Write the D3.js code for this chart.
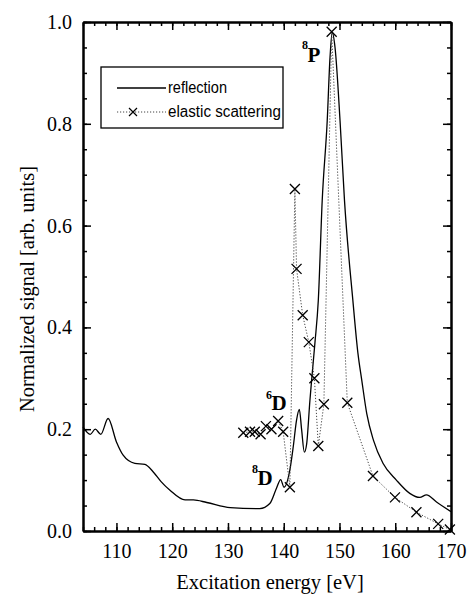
<!DOCTYPE html>
<html lang="en">
<head>
<meta charset="utf-8">
<title>Reflection vs elastic scattering</title>
<script src="https://d3js.org/d3.v7.min.js"></script>
<style>
  body { margin: 0; background: #fff; }
  svg text { fill: #000; }
</style>
</head>
<body>
<script>
// reflection curve (solid)
const reflE = [104.0, 105.3, 106.2, 107.2, 108.5, 110.0, 111.2, 113.3, 115.1, 116.6, 118.0, 119.6, 122.3, 123.8, 126.2, 130.4, 135.7, 137.5, 138.7,
  139.45, 140.05, 141.1, 141.7, 142.3, 142.8, 143.2, 143.7, 144.1, 144.7, 145.0, 145.6, 146.2, 146.9, 147.8, 148.3, 148.7, 149.2,
  150.1, 150.9, 152.4, 153.3, 154.0, 154.9, 156.1, 157.8, 160.2, 162.6, 164.4, 165.6, 167.4, 170.0];
const reflV = [0.204, 0.19, 0.20, 0.19, 0.221, 0.175, 0.149, 0.133, 0.131, 0.116, 0.097, 0.08, 0.061, 0.061, 0.056, 0.046, 0.044, 0.054, 0.084,
  0.101, 0.086, 0.12, 0.165, 0.218, 0.239, 0.20, 0.155, 0.17, 0.257, 0.296, 0.37, 0.453, 0.649, 0.806, 0.93, 0.98, 0.95,
  0.806, 0.649, 0.453, 0.35, 0.296, 0.23, 0.178, 0.133, 0.10, 0.074, 0.066, 0.071, 0.057, 0.038];

// elastic scattering (dotted + crosses)
const elE = [132.75, 133.95, 134.8, 135.85, 136.8, 137.8, 139.0, 139.9, 141.1, 142.0, 142.3, 143.4, 144.5, 145.5, 146.2, 147.2,
  148.6, 151.4, 156.0, 159.95, 163.8, 167.7, 169.8];
const elV = [0.193, 0.195, 0.195, 0.19, 0.206, 0.20, 0.216, 0.195, 0.086, 0.672, 0.515, 0.424, 0.371, 0.30, 0.167, 0.249,
  0.981, 0.252, 0.108, 0.066, 0.037, 0.014, 0.003];

const xTicks = [110, 120, 130, 140, 150, 160, 170];
const yTicks = [0.0, 0.2, 0.4, 0.6, 0.8, 1.0];

const w = 471, h = 597;
const mLeft = 83, mRight = 451, mTop = 22, mBottom = 531;
const serif = "'Liberation Serif', 'Times New Roman', Times, serif";

const x = d3.scaleLinear().domain([104, 170]).range([mLeft, mRight]);
const y = d3.scaleLinear().domain([0, 1]).range([mBottom, mTop]);

const svg = d3.select("body").append("svg").attr("width", w).attr("height", h);

// data lines
const reflection = reflE.map((e, i) => [e, reflV[i]]);
const elastic = elE.map((e, i) => [e, elV[i]]);

svg.append("path").datum(reflection)
  .attr("d", d3.line().x(d => x(d[0])).y(d => y(d[1])).curve(d3.curveMonotoneX))
  .attr("fill", "none").attr("stroke", "#000").attr("stroke-width", 1.3);

svg.append("path").datum(elastic)
  .attr("d", d3.line().x(d => x(d[0])).y(d => y(d[1])))
  .attr("fill", "none").attr("stroke", "#444").attr("stroke-width", 1)
  .attr("stroke-dasharray", "1.2,1.8");

const cross = "M-5,-5L5,5M-5,5L5,-5";
svg.append("g").selectAll("path").data(elastic).enter().append("path")
  .attr("transform", d => "translate(" + x(d[0]) + "," + y(d[1]) + ")")
  .attr("d", cross).attr("stroke", "#000").attr("stroke-width", 1.3).attr("fill", "none");

// axes: ticks pointing inward, frame on all sides
function styleAxis(g) {
  g.attr("font-family", serif).attr("font-size", 20);
  g.select(".domain").attr("stroke-width", 2);
  g.selectAll("line").attr("stroke-width", 1.5);
}
const xMinor = d3.range(104, 171, 2);
const yMinor = d3.range(0, 1.001, 0.05);

svg.append("g").attr("transform", "translate(0," + mBottom + ")")
  .call(d3.axisBottom(x).tickValues(xMinor).tickSize(-4).tickFormat("").tickSizeOuter(0)).call(styleAxis);
svg.append("g").attr("transform", "translate(0," + mBottom + ")")
  .call(d3.axisBottom(x).tickValues(xTicks).tickSize(-8).tickPadding(13).tickFormat(d3.format("d")).tickSizeOuter(0))
  .call(styleAxis);
svg.append("g").attr("transform", "translate(0," + mTop + ")")
  .call(d3.axisTop(x).tickValues(xMinor).tickSize(-4).tickFormat("").tickSizeOuter(0)).call(styleAxis);
svg.append("g").attr("transform", "translate(0," + mTop + ")")
  .call(d3.axisTop(x).tickValues(xTicks).tickSize(-8).tickFormat("").tickSizeOuter(0)).call(styleAxis);

svg.append("g").attr("transform", "translate(" + mLeft + ",0)")
  .call(d3.axisLeft(y).tickValues(yMinor).tickSize(-4).tickFormat("").tickSizeOuter(0)).call(styleAxis);
svg.append("g").attr("transform", "translate(" + mLeft + ",0)")
  .call(d3.axisLeft(y).tickValues(yTicks).tickSize(-8).tickPadding(11).tickFormat(d3.format(".1f")).tickSizeOuter(0))
  .call(styleAxis);
svg.append("g").attr("transform", "translate(" + mRight + ",0)")
  .call(d3.axisRight(y).tickValues(yMinor).tickSize(-4).tickFormat("").tickSizeOuter(0)).call(styleAxis);
svg.append("g").attr("transform", "translate(" + mRight + ",0)")
  .call(d3.axisRight(y).tickValues(yTicks).tickSize(-8).tickFormat("").tickSizeOuter(0)).call(styleAxis);

svg.selectAll(".tick text").attr("fill", "#000").style("font-family", serif);

// axis titles
svg.append("text").attr("x", 270).attr("y", 589)
  .attr("text-anchor", "middle")
  .style("font-family", serif).style("font-size", "20.5px")
  .text("Excitation energy [eV]");
svg.append("text").attr("transform", "translate(34,289) rotate(-90)")
  .attr("text-anchor", "middle")
  .style("font-family", serif).style("font-size", "20.5px")
  .text("Normalized signal [arb. units]");

// legend
const lg = svg.append("g");
lg.append("rect").attr("x", 101).attr("y", 67).attr("width", 182).attr("height", 61)
  .attr("fill", "#fff").attr("stroke", "#000").attr("stroke-width", 1.3);
lg.append("line").attr("x1", 117).attr("x2", 166).attr("y1", 88).attr("y2", 88)
  .attr("stroke", "#000").attr("stroke-width", 1.3);
lg.append("line").attr("x1", 117).attr("x2", 166).attr("y1", 112).attr("y2", 112)
  .attr("stroke", "#444").attr("stroke-width", 1).attr("stroke-dasharray", "1.2,1.8");
lg.append("path").attr("transform", "translate(133,112)").attr("d", "M-4,-4L4,4M-4,4L4,-4")
  .attr("stroke", "#000").attr("stroke-width", 1.2);
const legFont = "'Liberation Sans Narrow', 'Arial Narrow', 'Liberation Sans', Arial, sans-serif";
lg.append("text").attr("x", 168).attr("y", 93).style("font-family", legFont).style("font-size", "16px")
  .attr("textLength", 59).attr("lengthAdjust", "spacingAndGlyphs")
  .text("reflection");
lg.append("text").attr("x", 168).attr("y", 117).style("font-family", legFont).style("font-size", "16px")
  .attr("textLength", 113).attr("lengthAdjust", "spacingAndGlyphs")
  .text("elastic scattering");

// state labels
function stateLabel(px, py, sup, letter, rise) {
  const t = svg.append("text").attr("x", px).attr("y", py)
    .style("font-family", serif);
  t.append("tspan").attr("dy", -rise).style("font-size", "12px").style("font-weight", "bold").text(sup);
  t.append("tspan").attr("dy", rise).attr("dx", -0.5).style("font-size", "21px").style("font-weight", "bold").text(letter);
}
stateLabel(302, 62, "8", "P", 13);
stateLabel(266, 410, "6", "D", 11);
stateLabel(252, 485, "8", "D", 12);
</script>
</body>
</html>
